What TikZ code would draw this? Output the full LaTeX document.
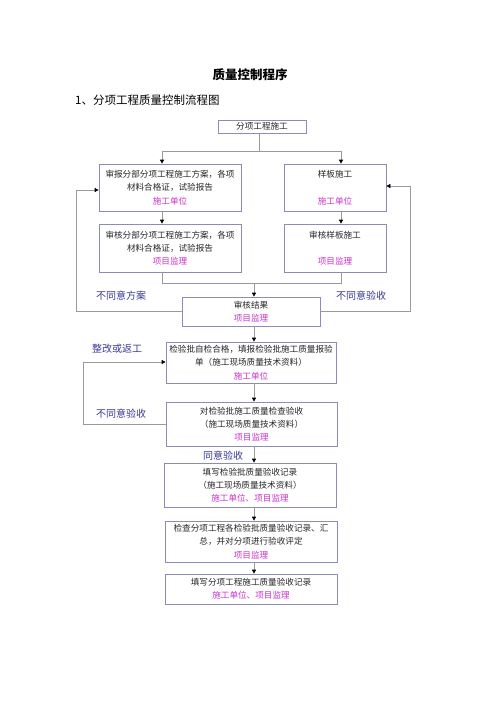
\documentclass[tikz,border=0pt]{standalone}
\usepackage{fontspec}
\setmainfont{Noto Sans CJK SC}
\usetikzlibrary{arrows.meta,calc}
\definecolor{boxc}{HTML}{8C8CB8}
\definecolor{linec}{HTML}{9A9A9A}
\definecolor{mag}{HTML}{CC33CC}
\definecolor{lab}{HTML}{3A3A96}
\begin{document}
\begin{tikzpicture}[x=1pt,y=-1pt,
  box/.style={draw=boxc, line width=0.7pt, align=center, inner sep=0pt,
    font=\fontsize{8.6}{13.3}\selectfont, text=black!85},
  conn/.style={draw=linec, line width=0.7pt},
  arr/.style={conn, -{Triangle[length=4pt,width=4pt,black]}},
  lbl/.style={text=lab, inner sep=0pt, font=\fontsize{10}{12}\selectfont}]
\useasboundingbox[fill=white] (0,0) rectangle (500,707);

\node[font=\fontsize{12.5}{14}\selectfont\bfseries, inner sep=0pt] (title) at (250,75) {质量控制程序};
\node[font=\fontsize{11.5}{14}\selectfont, anchor=west, inner sep=0pt] (sub) at (75,100) {1、分项工程质量控制流程图};

\node[box, minimum width=88pt, minimum height=13pt] (A) at (262,126.5) {分项工程施工};
\node[box, minimum width=142pt, minimum height=47pt] (B) at (170,187.5)
  {审报分部分项工程施工方案，各项\\材料合格证，试验报告\\\textcolor{mag}{施工单位}};
\node[box, minimum width=142pt, minimum height=48pt] (C) at (170,248)
  {审核分部分项工程施工方案，各项\\材料合格证，试验报告\\\textcolor{mag}{项目监理}};
\node[box, minimum width=102pt, minimum height=47pt] (D) at (335,187.5)
  {样板施工\\[13.3pt]\textcolor{mag}{施工单位}};
\node[box, minimum width=102pt, minimum height=48pt] (E) at (335,248)
  {审核样板施工\\[13.3pt]\textcolor{mag}{项目监理}};
\node[box, minimum width=138pt, minimum height=29pt] (F) at (251,311.5)
  {审核结果\\\textcolor{mag}{项目监理}};
\node[box, minimum width=170pt, minimum height=41pt] (G) at (251,362.5)
  {检验批自检合格，填报检验批施工质量报验\\单（施工现场质量技术资料）\\\textcolor{mag}{施工单位}};
\node[box, minimum width=171pt, minimum height=44pt] (H) at (251.5,424)
  {对检验批施工质量检查验收\\（施工现场质量技术资料）\\\textcolor{mag}{项目监理}};
\node[box, minimum width=172pt, minimum height=44pt] (I) at (250,485)
  {填写检验批质量验收记录\\（施工现场质量技术资料）\\\textcolor{mag}{施工单位、项目监理}};
\node[box, minimum width=172pt, minimum height=41pt] (J) at (251,541.5)
  {检查分项工程各检验批质量验收记录、汇\\总，并对分项进行验收评定\\\textcolor{mag}{项目监理}};
\node[box, minimum width=172pt, minimum height=30pt] (K) at (251,589)
  {填写分项工程施工质量验收记录\\\textcolor{mag}{施工单位、项目监理}};

\node[lbl] (l1) at (121,296) {不同意方案};
\node[lbl] (l2) at (361,296) {不同意验收};
\node[lbl] (l3) at (117,349) {整改或返工};
\node[lbl] (l4) at (121,414) {不同意验收};
\node[lbl] (l5) at (223,456) {同意验收};

% top split
\coordinate (j1) at (259,151);
\coordinate (j1L) at (162,151);
\coordinate (j1R) at (341,151);
\draw[conn] (A.south -| j1) -- (j1);
\draw[conn] (j1L) -- (j1R);
\draw[arr] (j1L) -- (j1L |- B.north);
\draw[arr] (j1R) -- (j1R |- D.north);
\draw[arr] (j1L |- B.south) -- (j1L |- C.north);
\draw[arr] (j1R |- D.south) -- (j1R |- E.north);

% merge
\coordinate (j2) at (254,283);
\draw[conn] (j1L |- C.south) -- (j1L |- j2) -- (j1R |- j2) -- (j1R |- E.south);
\draw[arr] (j2) -- (j2 |- F.north);

% feedback loops
\coordinate (lp1) at (76,190);
\draw[arr] (F.west) -- (lp1 |- F.west) -- (lp1) -- (lp1 -| B.west);
\coordinate (rp1) at (410,186);
\draw[arr] (F.east) -- (rp1 |- F.east) -- (rp1) -- (rp1 -| D.east);
\coordinate (lp2) at (83,362);
\draw[arr] (H.west) -- (lp2 |- H.west) -- (lp2) -- (lp2 -| G.west);

% main chain
\draw[arr] (j2 |- F.south) -- (j2 |- G.north);
\draw[arr] (j2 |- G.south) -- (j2 |- H.north);
\draw[arr] (j2 |- H.south) -- (j2 |- I.north);
\draw[arr] (j2 |- I.south) -- (j2 |- J.north);
\draw[arr] (j2 |- J.south) -- (j2 |- K.north);
\end{tikzpicture}
\end{document}
